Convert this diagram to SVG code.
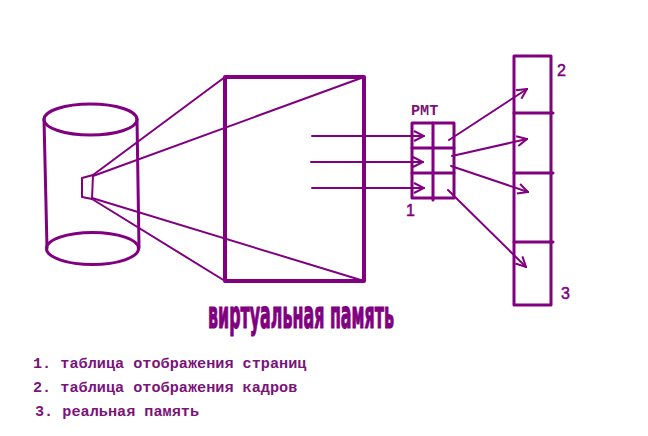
<svg xmlns="http://www.w3.org/2000/svg" width="648" height="436" viewBox="0 0 648 436">
<defs>
<style>
.s{fill:none;stroke:#800080;stroke-linecap:round;stroke-linejoin:round}
.t{stroke-width:2}
.m{stroke-width:3}
.k{stroke-width:4}
.lbl{fill:#800080;font-family:"Liberation Sans",Arial,sans-serif;font-size:16px}
.mono{fill:#7a1478;font-family:"Liberation Mono","Courier New",monospace;font-weight:bold;font-size:15.2px}
</style>
<marker id="ah" viewBox="0 0 12 12" refX="11" refY="6" markerWidth="12" markerHeight="12" markerUnits="userSpaceOnUse" orient="auto">
<path d="M1,1 L11,6 L1,11" fill="none" stroke="#800080" stroke-width="2"/>
</marker>
</defs>
<rect width="648" height="436" fill="#ffffff"/>
<g id="cylinder">
<ellipse class="s m" cx="90.5" cy="119.5" rx="46.5" ry="15.5"/>
<ellipse class="s m" cx="92.5" cy="248.5" rx="46" ry="16"/>
<line class="s m" x1="44" y1="119" x2="47" y2="248"/>
<line class="s m" x1="137" y1="119" x2="139" y2="248"/>
<path class="s t" d="M82,178 L93,175 L92,199 L82,197 Z"/>
</g>
<g id="virtual-memory">
<rect class="s k" x="225" y="77" width="139" height="204"/>
</g>
<g id="projection">
<line class="s t" x1="93" y1="175" x2="225" y2="77"/>
<line class="s t" x1="93" y1="176" x2="364" y2="77"/>
<line class="s t" x1="92" y1="198" x2="364" y2="281"/>
<line class="s t" x1="92" y1="199" x2="225" y2="281"/>
</g>
<g id="pmt">
<rect class="s m" x="412" y="123" width="42" height="75"/>
<line class="s m" x1="433" y1="123" x2="433" y2="200"/>
<line class="s m" x1="412" y1="148" x2="454" y2="148"/>
<line class="s m" x1="412" y1="173" x2="454" y2="173"/>
<text class="mono" x="411" y="115">PMT</text>
<text class="lbl" x="406" y="216" stroke="#800080" stroke-width="0.5">1</text>
</g>
<g id="real-memory">
<rect class="s m" x="514" y="56" width="37" height="249"/>
<line class="s m" x1="514" y1="113" x2="553" y2="113"/>
<line class="s m" x1="514" y1="173" x2="553" y2="173"/>
<line class="s m" x1="514" y1="242" x2="553" y2="242"/>
<text class="lbl" x="557" y="76" stroke="#800080" stroke-width="0.5">2</text>
<text class="lbl" x="561" y="299" stroke="#800080" stroke-width="0.5">3</text>
</g>
<g id="connectors">
<line class="s t" x1="312" y1="136" x2="424" y2="136" marker-end="url(#ah)"/>
<line class="s t" x1="311" y1="162" x2="423" y2="162" marker-end="url(#ah)"/>
<line class="s t" x1="312" y1="188" x2="424" y2="188" marker-end="url(#ah)"/>
<line class="s t" x1="449" y1="140" x2="527" y2="89" marker-end="url(#ah)"/>
<line class="s t" x1="452" y1="156" x2="527" y2="139" marker-end="url(#ah)"/>
<line class="s t" x1="451" y1="166" x2="528" y2="192" marker-end="url(#ah)"/>
<line class="s t" x1="448" y1="190" x2="526" y2="267" marker-end="url(#ah)"/>
</g>
<g id="title">
<text x="208" y="328" textLength="186" lengthAdjust="spacingAndGlyphs" fill="#800080" stroke="#800080" stroke-width="1.2" font-family="'DejaVu Sans Condensed','DejaVu Sans',sans-serif" font-weight="bold" font-size="39">виртуальная память</text>
</g>
<g id="legend">
<text class="mono" x="33" y="368">1. таблица отображения страниц</text>
<text class="mono" x="33" y="392">2. таблица отображения кадров</text>
<text class="mono" x="35" y="416">3. реальная память</text>
</g>
</svg>
